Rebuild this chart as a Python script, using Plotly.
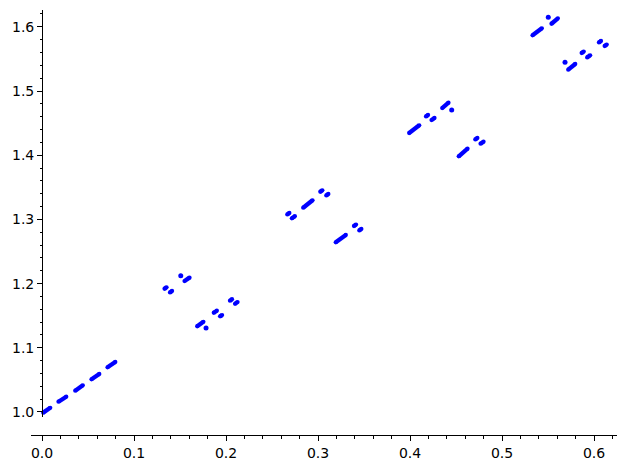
import plotly.graph_objects as go

# Visible pieces of the plotted curve (start/end of each dash)
seg_x0 = [0.0013, 0.0179, 0.0361, 0.0538, 0.0712,
          0.1332, 0.1391, 0.1549, 0.1687, 0.1867, 0.1935, 0.2043, 0.2098,
          0.2666, 0.2716, 0.2839, 0.3025, 0.3090, 0.3193, 0.3391, 0.3449,
          0.3991, 0.4174, 0.4234, 0.4350, 0.4530, 0.4710, 0.4767,
          0.5332, 0.5538, 0.5720, 0.5866, 0.5926, 0.6054, 0.6116]
seg_x1 = [0.0089, 0.0263, 0.0443, 0.0622, 0.0796,
          0.1353, 0.1413, 0.1603, 0.1754, 0.1900, 0.1957, 0.2065, 0.2125,
          0.2688, 0.2748, 0.2940, 0.3047, 0.3112, 0.3302, 0.3413, 0.3471,
          0.4100, 0.4196, 0.4266, 0.4418, 0.4625, 0.4732, 0.4799,
          0.5433, 0.5607, 0.5796, 0.5888, 0.5958, 0.6076, 0.6138]
seg_y0 = [0.9990, 1.0160, 1.0332, 1.0509, 1.0696,
          1.1920, 1.1863, 1.2040, 1.1336, 1.1546, 1.1490, 1.1734, 1.1685,
          1.3078, 1.3017, 1.3182, 1.3431, 1.3374, 1.2643, 1.2897, 1.2829,
          1.4346, 1.4604, 1.4548, 1.4735, 1.3983, 1.4246, 1.4179,
          1.5868, 1.6048, 1.5332, 1.5592, 1.5524, 1.5757, 1.5701]
seg_y1 = [1.0065, 1.0238, 1.0416, 1.0592, 1.0779,
          1.1942, 1.1885, 1.2093, 1.1405, 1.1578, 1.1510, 1.1756, 1.1712,
          1.3100, 1.3049, 1.3298, 1.3453, 1.3396, 1.2757, 1.2919, 1.2851,
          1.4466, 1.4626, 1.4580, 1.4818, 1.4101, 1.4268, 1.4211,
          1.5977, 1.6132, 1.5421, 1.5614, 1.5556, 1.5779, 1.5723]

# Isolated very short pieces (dots)
dot_x = [0.1508, 0.1783, 0.4453, 0.5503, 0.5685]
dot_y = [1.2123, 1.1308, 1.4704, 1.6148, 1.5447]

x_ticks = [0.0, 0.1, 0.2, 0.3, 0.4, 0.5, 0.6]
y_ticks = [1.0, 1.1, 1.2, 1.3, 1.4, 1.5, 1.6]

BLUE = "#0000ff"
LW = 4.3

xs, ys = [], []
for a, b, c, d in zip(seg_x0, seg_x1, seg_y0, seg_y1):
    xs += [a, b, None]
    ys += [c, d, None]

fig = go.Figure()
fig.add_trace(go.Scatter(
    x=xs, y=ys, mode="lines+markers",
    line=dict(color=BLUE, width=LW),
    marker=dict(color=BLUE, size=LW, line=dict(width=0)),
    hoverinfo="skip", showlegend=False))
fig.add_trace(go.Scatter(
    x=dot_x, y=dot_y, mode="markers",
    marker=dict(color=BLUE, size=5, line=dict(width=0)),
    hoverinfo="skip", showlegend=False))

# page body has an 8px margin: the figure is placed at (8, 8)
OFF = 8
W, H = 628 - OFF, 470 - OFF
left_px, right_px, top_px, axis_px = 31, 617, 10, 435
y_bot_px = 417
ml, mt = left_px - OFF, top_px - OFF
mr = W - (right_px - OFF)
mb = H - (axis_px - OFF)
plot_h = H - mt - mb
x_min, x_max = -0.0120, 0.625
y_domain_lo = (axis_px - y_bot_px) / plot_h
y_pos = (0 - x_min) / (x_max - x_min)

tickfont = dict(family="DejaVu Sans", size=14, color="black")

fig.update_layout(
    width=W, height=H,
    margin=dict(l=ml, r=mr, t=mt, b=mb, autoexpand=False),
    paper_bgcolor="white", plot_bgcolor="white",
    xaxis=dict(
        range=[x_min, x_max], anchor="free", position=0, automargin=False,
        showgrid=False, zeroline=False,
        showline=True, linecolor="black", linewidth=1,
        ticks="outside", ticklen=5, tickwidth=1, tickcolor="black",
        tickvals=x_ticks, ticktext=[f"{v:.1f}" for v in x_ticks],
        tickfont=tickfont,
        minor=dict(ticks="outside", ticklen=2.5, tickwidth=0.8,
                   tickcolor="black", dtick=0.02, tick0=0, showgrid=False),
    ),
    yaxis=dict(
        range=[0.9922, 1.6262], domain=[y_domain_lo, 1],
        anchor="free", position=y_pos, automargin=False,
        showgrid=False, zeroline=False,
        showline=True, linecolor="black", linewidth=1,
        ticks="outside", ticklen=5, tickwidth=1, tickcolor="black",
        tickvals=y_ticks, ticktext=[f"{v:.1f}" for v in y_ticks],
        tickfont=tickfont,
        minor=dict(ticks="outside", ticklen=2.5, tickwidth=0.8,
                   tickcolor="black", dtick=0.02, tick0=1.0, showgrid=False),
    ),
)

fig.write_html("out.html")
